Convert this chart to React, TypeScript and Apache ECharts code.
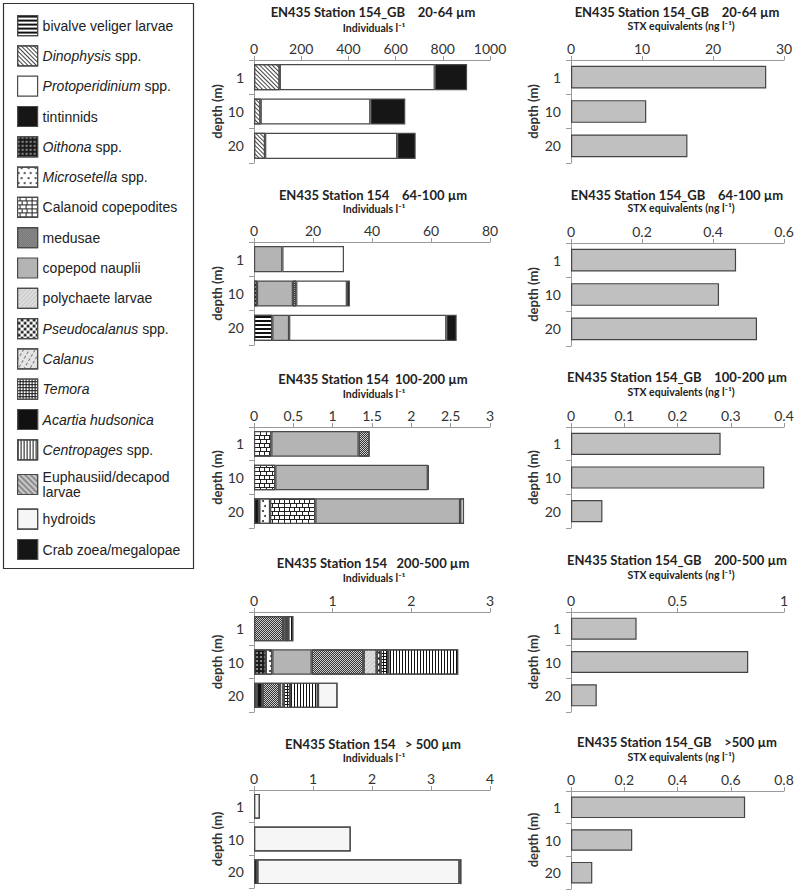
import React, { useEffect, useRef } from 'react';
import * as echarts from 'echarts';

const depths = ['1', '10', '20'];

const speciesOrder = [
  'bivalve veliger larvae', 'Dinophysis spp.', 'Protoperidinium spp.', 'tintinnids',
  'Oithona spp.', 'Microsetella spp.', 'Calanoid copepodites', 'medusae', 'copepod nauplii',
  'polychaete larvae', 'Pseudocalanus spp.', 'Calanus', 'Temora', 'Acartia hudsonica',
  'Centropages spp.', 'Euphausiid/decapod larvae', 'hydroids', 'Crab zoea/megalopae',
];

// Individuals per litre, stacked in drawing order (depth 1, 10, 20)
const ind20_64: [string, (number | null)[]][] = [
  ['Dinophysis spp.', [109, 28, 47]],
  ['Protoperidinium spp.', [657, 465, 560]],
  ['tintinnids', [137, 148, 78]],
];
const ind64_100: [string, (number | null)[]][] = [
  ['bivalve veliger larvae', [null, 1.0, 6.2]],
  ['copepod nauplii', [9.6, 12.2, 5.7]],
  ['medusae', [null, 1.1, null]],
  ['Protoperidinium spp.', [20.9, 17.2, 53.3]],
  ['tintinnids', [null, 1.0, 3.5]],
];
const ind100_200: [string, (number | null)[]][] = [
  ['Crab zoea/megalopae', [null, null, 0.065]],
  ['Microsetella spp.', [null, null, 0.14]],
  ['Calanoid copepodites', [0.22, 0.27, 0.575]],
  ['copepod nauplii', [1.11, 1.94, 1.84]],
  ['medusae', [0.14, null, null]],
  ['Acartia hudsonica', [null, 0.012, null]],
  ['hydroids', [null, null, 0.05]],
];
const ind200_500: [string, (number | null)[]][] = [
  ['Oithona spp.', [null, 0.15, 0.033]],
  ['Acartia hudsonica', [null, null, 0.075]],
  ['Microsetella spp.', [null, 0.083, null]],
  ['copepod nauplii', [null, 0.5, null]],
  ['medusae', [0.37, 0.66, 0.217]],
  ['polychaete larvae', [null, 0.167, 0.05]],
  ['Pseudocalanus spp.', [null, 0.05, null]],
  ['Calanus', [0.035, null, null]],
  ['Temora', [0.03, 0.096, 0.083]],
  ['Centropages spp.', [0.065, 0.89, 0.354]],
  ['Euphausiid/decapod larvae', [null, null, null]],
  ['bivalve veliger larvae', [null, null, null]],
  ['Dinophysis spp.', [null, null, null]],
  ['tintinnids', [null, null, null]],
  ['hydroids', [null, null, 0.25]],
  ['Crab zoea/megalopae', [null, null, null]],
];
const ind500: [string, (number | null)[]][] = [
  ['Crab zoea/megalopae', [null, null, 0.055]],
  ['hydroids', [0.1, 1.64, 3.43]],
  ['Acartia hudsonica', [null, null, 0.03]],
];

// STX equivalents (ng per litre)
const stx20_64 = [27.5, 10.6, 16.4];
const stx64_100 = [0.465, 0.417, 0.524];
const stx100_200 = [0.281, 0.363, 0.059];
const stx200_500 = [0.308, 0.832, 0.121];
const stx500 = [0.654, 0.23, 0.08];

const leftTitles = [
  'EN435 Station 154_GB    20-64 µm',
  'EN435 Station 154    64-100 µm',
  'EN435 Station 154  100-200 µm',
  'EN435 Station 154   200-500 µm',
  'EN435 Station 154   > 500 µm',
];
const rightTitles = [
  'EN435 Station 154_GB    20-64 µm',
  'EN435 Station 154_GB    64-100 µm',
  'EN435 Station 154_GB    100-200 µm',
  'EN435 Station 154_GB    200-500 µm',
  'EN435 Station 154_GB    >500 µm',
];
const leftAxisName = 'Individuals l⁻¹';
const rightAxisName = 'STX equivalents (ng l⁻¹)';
const leftMax = [1000, 80, 3, 3, 4];
const leftInterval = [200, 20, 0.5, 1, 1];
const rightMax = [30, 0.6, 0.4, 1, 0.8];
const rightInterval = [10, 0.2, 0.1, 0.5, 0.2];

const styles: Record<string, any> = {
  'bivalve veliger larvae': { color: '#ffffff', decal: { symbol: 'rect', color: '#111', dashArrayX: [1, 0], dashArrayY: [1.4, 1.8] } },
  'Dinophysis spp.': { color: '#ffffff', decal: { symbol: 'rect', color: '#444', dashArrayX: [1, 0], dashArrayY: [1, 1.2], rotation: Math.PI / 4 } },
  'Protoperidinium spp.': { color: '#ffffff' },
  'tintinnids': { color: '#161616' },
  'Oithona spp.': { color: '#1a1a1a', decal: { symbol: 'circle', color: '#9a9a9a', dashArrayX: [1.4, 2], dashArrayY: [1.4, 2] } },
  'Microsetella spp.': { color: '#ffffff', decal: { symbol: 'circle', color: '#333', dashArrayX: [[1.6, 4], [0, 2.8, 1.6, 1.2]], dashArrayY: [1.6, 2.4] } },
  'Calanoid copepodites': { color: '#222222', decal: { symbol: 'rect', color: '#ffffff', dashArrayX: [[4, 1], [1.5, 1, 2.5, 0]], dashArrayY: [2.5, 1] } },
  'medusae': { color: '#cfcfcf', decal: { symbol: 'rect', color: '#333', dashArrayX: [[1, 1], [0, 1, 1, 0]], dashArrayY: [1, 0] } },
  'copepod nauplii': { color: '#b4b4b4' },
  'polychaete larvae': { color: '#dedede', decal: { symbol: 'rect', color: '#c6c6c6', dashArrayX: [1, 0], dashArrayY: [1, 2], rotation: -Math.PI / 4 } },
  'Pseudocalanus spp.': { color: '#ffffff', decal: { symbol: 'circle', color: '#111', dashArrayX: [[3, 3], [0, 3, 3, 0]], dashArrayY: [3, 0] } },
  'Calanus': { color: '#e4e4e4', decal: { symbol: 'rect', color: '#7a7a7a', dashArrayX: [2.5, 1.5], dashArrayY: [0.8, 3.2], rotation: -Math.PI / 3 } },
  'Temora': { color: '#111111', decal: { symbol: 'rect', color: '#ffffff', dashArrayX: [1.5, 1], dashArrayY: [1.5, 1] } },
  'Acartia hudsonica': { color: '#111111', decal: { symbol: 'circle', color: '#5a5a5a', dashArrayX: [1, 1.4], dashArrayY: [1, 1.4] } },
  'Centropages spp.': { color: '#ffffff', decal: { symbol: 'rect', color: '#111', dashArrayX: [1, 1.8], dashArrayY: [1, 0] } },
  'Euphausiid/decapod larvae': { color: '#8c8c8c', decal: { symbol: 'rect', color: '#c8c8c8', dashArrayX: [1, 0], dashArrayY: [1.5, 2], rotation: Math.PI / 4 } },
  'hydroids': { color: '#f6f6f6', decal: { symbol: 'circle', color: '#b0b0b0', dashArrayX: [[1, 1.6], [0, 1.3, 1, 0.3]], dashArrayY: [1, 1] } },
  'Crab zoea/megalopae': { color: '#151515', decal: { symbol: 'circle', color: '#3c3c3c', dashArrayX: [1, 1], dashArrayY: [1, 1] } },
};

const italicNames: Record<string, string> = {
  'Dinophysis spp.': '{i|Dinophysis} spp.',
  'Protoperidinium spp.': '{i|Protoperidinium} spp.',
  'Oithona spp.': '{i|Oithona} spp.',
  'Microsetella spp.': '{i|Microsetella} spp.',
  'Pseudocalanus spp.': '{i|Pseudocalanus} spp.',
  'Calanus': '{i|Calanus}',
  'Temora': '{i|Temora}',
  'Acartia hudsonica': '{i|Acartia hudsonica}',
  'Centropages spp.': '{i|Centropages} spp.',
  'Euphausiid/decapod larvae': 'Euphausiid/decapod\nlarvae',
};

const FONT = 'Lato, "Open Sans", sans-serif';
const LEGEND_FONT = '"Liberation Sans", Arial, sans-serif';
const nb = (s: string) => s.replace(/ /g, '\u00a0');

export default function App() {
  const ref = useRef<HTMLDivElement>(null);
  useEffect(() => {
    if (!ref.current) return;
    const chart = echarts.init(ref.current, undefined, { renderer: 'svg' });

    const leftData = [ind20_64, ind64_100, ind100_200, ind200_500, ind500];
    const rightData = [stx20_64, stx64_100, stx100_200, stx200_500, stx500];
    const leftTops = [60, 242, 427, 612, 790];
    const rightTops = [60, 243, 427, 612, 791];
    const heights = [103, 103, 101, 100, 98];
    const leftTitleY = [12, 195, 379, 563, 744];
    const rightTitleY = [12, 195, 377, 560, 742];
    const leftNameY = [28, 209, 394, 578, 758];
    const rightNameY = [26, 208, 392, 575, 757];

    const grids: any[] = [];
    const xAxes: any[] = [];
    const yAxes: any[] = [];
    const series: any[] = [];
    const graphics: any[] = [];

    const axisX = (idx: number, max: number, interval: number) => ({
      type: 'value', gridIndex: idx, position: 'top', min: 0, max, interval,
      axisLine: { show: true, lineStyle: { color: '#9a9a9a', width: 1 } },
      axisTick: { show: true, length: 4, lineStyle: { color: '#9a9a9a' } },
      axisLabel: { fontSize: 14, color: '#333', fontFamily: FONT, margin: 5, formatter: (v: number) => String(v) },
      splitLine: { show: false },
    });
    const axisY = (idx: number, nameGap: number) => ({
      type: 'category', gridIndex: idx, data: depths, inverse: true,
      axisLine: { show: true, lineStyle: { color: '#9a9a9a', width: 1 } },
      axisTick: { show: true, length: 5, alignWithLabel: false, lineStyle: { color: '#9a9a9a' } },
      axisLabel: { fontSize: 14, color: '#333', fontFamily: FONT, margin: 10 },
      name: 'depth (m)', nameLocation: 'middle', nameGap, nameRotate: 90,
      nameTextStyle: { fontSize: 13, fontWeight: 'bold', color: '#333', fontFamily: FONT },
    });
    const text = (x: number, y: number, s: string, size: number) => ({
      type: 'text', x, y,
      style: { text: nb(s), fontSize: size, fontWeight: 'bold', fontFamily: FONT, fill: '#222', align: 'center', verticalAlign: 'middle' },
    });

    for (let i = 0; i < 5; i++) {
      const li = i * 2;
      grids.push({ left: 254, top: leftTops[i], width: 236, height: heights[i] });
      xAxes.push(axisX(li, leftMax[i], leftInterval[i]));
      yAxes.push(axisY(li, 30));
      leftData[i].forEach(([name, vals]) => {
        const st = styles[name];
        series.push({
          type: 'bar', name, xAxisIndex: li, yAxisIndex: li, stack: 'L' + i,
          data: vals.map((v) => (v == null ? '-' : v)),
          barCategoryGap: '24%',
          itemStyle: { color: st.color, decal: st.decal, borderColor: '#4a4a4a', borderWidth: 1.2 },
        });
      });
      graphics.push(text(373, leftTitleY[i], leftTitles[i], 13));
      graphics.push(text(374, leftNameY[i], leftAxisName, 10.5));

      const ri = i * 2 + 1;
      grids.push({ left: 571, top: rightTops[i], width: 213, height: heights[i] });
      xAxes.push(axisX(ri, rightMax[i], rightInterval[i]));
      yAxes.push(axisY(ri, 32));
      series.push({
        type: 'bar', name: 'STX', xAxisIndex: ri, yAxisIndex: ri,
        data: rightData[i], barCategoryGap: '34%',
        itemStyle: { color: '#c0c0c0', borderColor: '#444', borderWidth: 1.2 },
      });
      graphics.push(text(677, rightTitleY[i], rightTitles[i], 13));
      graphics.push(text(681, rightNameY[i], rightAxisName, 10.5));
    }

    graphics.push({
      type: 'rect', shape: { x: 3.5, y: 3.5, width: 190, height: 565 },
      style: { fill: 'none', stroke: '#333', lineWidth: 1.2 }, z: 10,
    });

    chart.setOption({
      animation: false,
      backgroundColor: '#ffffff',
      grid: grids,
      xAxis: xAxes,
      yAxis: yAxes,
      series,
      graphic: graphics,
      legend: {
        data: speciesOrder,
        orient: 'vertical', left: 12, top: 10,
        itemWidth: 20, itemHeight: 20, itemGap: 9.1,
        icon: 'rect', selectedMode: false,
        formatter: (name: string) => italicNames[name] || name,
        textStyle: {
          fontSize: 14, color: '#222', fontFamily: LEGEND_FONT, lineHeight: 15,
          rich: { i: { fontSize: 14, fontStyle: 'italic', color: '#222', fontFamily: LEGEND_FONT } },
        },
        itemStyle: { borderColor: '#4a4a4a', borderWidth: 1.2 },
      },
    });
    return () => chart.dispose();
  }, []);
  return <div ref={ref} style={{ position: 'fixed', left: 0, top: 0, width: 800, height: 892 }} />;
}
